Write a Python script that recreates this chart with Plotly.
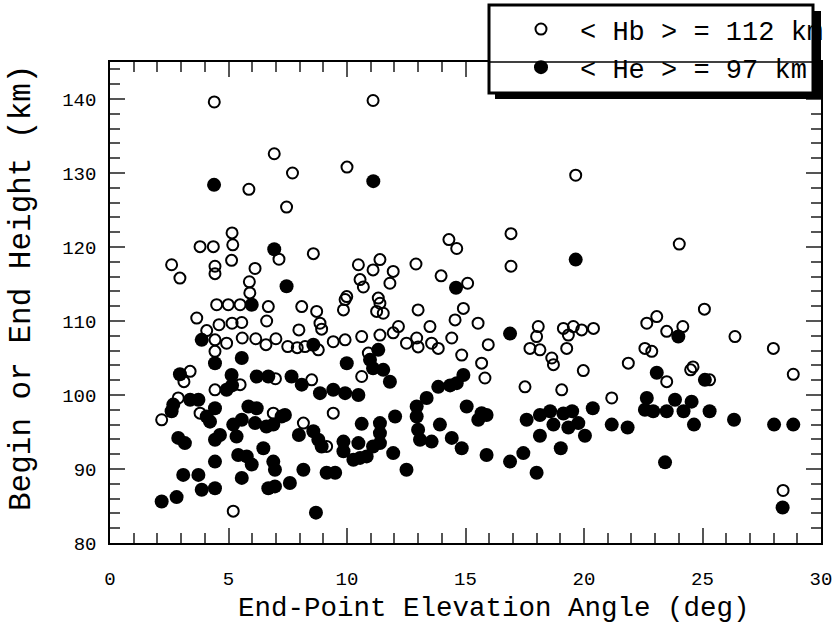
import plotly.graph_objects as go

# ---- data ----
hb_x = [4.4, 11.1, 6.93, 7.7, 10.0, 19.65, 5.86, 7.45, 5.15, 16.92, 14.3, 24.02, 14.63, 3.8, 4.36,
        5.18, 7.13, 8.58, 5.13, 2.6, 2.95, 4.43, 4.43, 6.12, 5.88, 9.99, 5.9, 16.92, 10.48, 11.39,
        11.1, 11.95, 10.55, 10.69, 11.81, 12.91, 13.97, 15.09, 11.32, 25.08, 19.13, 19.55, 19.9, 20.4,
        22.65, 23.07, 23.49, 24.17, 26.37, 19.27, 22.57, 22.86, 27.99, 19.97, 21.87, 24.6, 24.5, 23.49,
        25.3, 28.83, 19.06, 21.17, 28.4, 9.85, 11.39, 11.25, 11.53, 13.0, 14.91, 14.56, 15.53, 9.42,
        9.92, 10.62, 11.39, 11.95, 12.17, 10.9, 12.51, 13.0, 12.94, 13.5, 13.57, 13.85, 14.42, 14.84,
        15.96, 15.68, 15.82, 10.62, 9.42, 17.51, 18.07, 18.0, 17.72, 18.14, 18.64, 18.71, 19.34, 4.5,
        4.99, 5.49, 6.68, 8.09, 8.72, 8.86, 8.93, 3.66, 4.08, 4.6, 5.15, 5.56, 6.61, 7.97, 4.43, 4.92,
        5.58, 6.15, 6.58, 7.0, 7.5, 7.9, 8.23, 8.79, 4.43, 3.38, 3.12, 5.49, 4.43, 6.98, 8.51, 2.88,
        3.8, 2.18, 6.89, 8.16, 9.14, 5.2, 9.92]
hb_y = [139.6, 139.8, 132.6, 130.0, 130.8, 129.7, 127.8, 125.4, 121.9, 121.8, 121.0, 120.4, 119.8, 120.05, 120.05,
        120.3, 118.35, 119.1, 118.2, 117.6, 115.8, 117.4, 116.4, 117.1, 115.3, 113.3, 113.8, 117.4, 117.6, 118.3,
        116.9, 116.7, 115.6, 114.6, 115.1, 117.7, 116.1, 115.1, 113.1, 111.6, 109.0, 109.25, 108.8, 109.0,
        109.7, 110.6, 108.6, 109.25, 107.9, 106.3, 106.3, 105.9, 106.3, 103.3, 104.3, 103.8, 103.4, 101.8,
        102.05, 102.8, 100.7, 99.6, 87.1, 111.5, 112.4, 111.3, 111.05, 111.5, 111.7, 110.15, 109.7, 107.2,
        107.45, 107.9, 108.1, 108.4, 109.25, 105.66, 107.0, 106.5, 107.7, 109.25, 107.0, 106.3, 107.7, 105.4,
        106.8, 104.3, 102.3, 102.5, 97.55, 101.1, 109.25, 107.9, 106.3, 106.1, 105.0, 104.1, 108.1, 112.2,
        112.2, 112.2, 111.95, 111.95, 111.3, 109.7, 108.9, 110.4, 108.7, 109.5, 109.7, 109.8, 110.0, 108.8, 107.45, 107.0,
        107.7, 107.6, 106.8, 107.6, 106.55, 106.4, 106.55, 106.1, 105.9, 103.2, 101.8, 101.4, 100.7, 102.2, 102.05, 99.6,
        97.55, 96.65, 97.55, 96.2, 93.05, 84.3, 112.9]

he_x = [4.39, 11.11, 6.93, 19.65, 7.45, 14.6, 23.98, 16.88, 5.98, 3.87, 8.58, 5.56, 4.43, 9.99, 2.95,
        5.13, 5.15, 6.19, 6.68, 7.66, 8.09, 4.92, 8.86, 9.42, 9.92, 10.48, 10.97, 11.32, 11.1, 11.53,
        11.81, 13.36, 13.85, 14.35, 14.63, 14.91, 15.05, 15.68, 15.89, 15.54, 17.58, 18.14, 18.57, 19.13,
        19.5, 18.71, 19.34, 18.14, 19.02, 17.44, 16.88, 18.0, 15.89, 12.51, 9.5, 10.55, 10.83, 10.27,
        9.85, 9.85, 10.48, 11.39, 11.39, 11.39, 11.1, 11.95, 12.03, 10.62, 12.94, 12.94, 13.0, 13.08,
        13.57, 13.92, 14.42, 14.84, 19.76, 20.04, 20.37, 21.17, 21.84, 22.65, 22.57, 22.92, 23.49, 23.84,
        24.54, 24.2, 25.3, 24.64, 26.33, 28.02, 28.83, 23.42, 28.38, 23.07, 25.1, 2.6, 3.38, 3.73, 4.08,
        4.43, 4.22, 5.84, 6.19, 6.89, 7.24, 5.2, 5.56, 6.12, 6.6, 7.97, 8.58, 8.79, 8.93, 2.88, 3.16,
        4.43, 4.64, 5.34, 6.47, 5.41, 5.77, 5.98, 4.43, 6.89, 6.96, 8.16, 9.14, 3.09, 3.73, 5.56, 3.87,
        4.43, 6.68, 6.96, 7.59, 2.18, 2.81, 8.69, 2.67, 7.38]
he_y = [128.4, 128.9, 119.7, 118.3, 114.7, 114.5, 107.9, 108.3, 112.2, 107.45, 106.8, 105.0, 104.3, 104.3, 102.8,
        102.7, 101.3, 102.5, 102.5, 102.5, 101.4, 100.7, 100.25, 100.7, 100.25, 100.0, 104.75, 106.1, 103.6, 103.4,
        101.8, 99.6, 101.1, 101.3, 101.6, 102.7, 98.45, 97.55, 97.3, 96.65, 96.65, 97.3, 97.8, 97.5,
        97.8, 96.0, 95.6, 94.5, 92.8, 92.15, 91.0, 89.5, 91.9, 89.9, 89.5, 91.5, 91.7, 91.25,
        93.7, 92.4, 93.5, 96.2, 94.85, 93.5, 93.05, 92.15, 97.1, 96.1, 98.45, 97.1, 95.3, 93.95,
        93.7, 96.0, 94.2, 92.8, 96.2, 94.5, 98.2, 96.0, 95.6, 99.6, 98.0, 97.8, 97.8, 99.35,
        99.1, 97.8, 97.8, 96.0, 96.65, 96.0, 96.0, 90.9, 84.8, 103.0, 102.05, 97.8, 99.35, 99.35, 97.1,
        98.2, 96.4, 98.45, 98.2, 96.0, 97.1, 96.0, 96.65, 96.2, 95.75, 94.6, 95.1, 93.95, 93.05, 94.2, 93.5,
        93.95, 94.6, 94.4, 92.8, 91.9, 91.7, 90.6, 91.0, 91.0, 89.9, 89.9, 89.5, 89.2, 89.2, 88.8, 87.2,
        87.4, 87.4, 87.65, 88.1, 85.6, 86.2, 84.1, 98.7, 97.3]

hb_label = "< Hb > = 112 km"
he_label = "< He > = 97 km"
x_title = "End-Point Elevation Angle (deg)"
y_title = "Begin or End Height (km)"
x_range = [0, 30]
y_range = [80, 145]

FONT = "Liberation Mono, Courier New, monospace"
W, H = 836, 627
ML, MR, MT, MB = 110, 15, 62, 84
PW, PH = W - ML - MR, H - MT - MB


def px(xp):
    return (xp - ML) / PW


def py(yp):
    return (H - MB - yp) / PH


fig = go.Figure()
fig.add_trace(go.Scatter(
    x=hb_x, y=hb_y, mode="markers", name=hb_label,
    marker=dict(symbol="circle-open", size=11, color="black", line=dict(width=2, color="black")),
))
fig.add_trace(go.Scatter(
    x=he_x, y=he_y, mode="markers", name=he_label,
    marker=dict(symbol="circle", size=14, color="black", line=dict(width=0)),
))

axis_common = dict(
    showline=True, linecolor="black", linewidth=1.5, mirror="ticks",
    ticks="inside", tickcolor="#555555", tickwidth=1.5,
    showgrid=False, zeroline=False,
    tickfont=dict(family=FONT, size=19, color="black"),
)

fig.update_xaxes(
    range=x_range, dtick=5, tick0=0, ticklen=15, ticklabelstandoff=17,
    minor=dict(dtick=1, ticks="inside", ticklen=10, tickcolor="#555555", tickwidth=1.5, showgrid=False),
    **axis_common,
)
fig.update_yaxes(
    range=y_range, dtick=10, tick0=80, ticklen=15, ticklabelstandoff=8,
    minor=dict(dtick=2, ticks="inside", ticklen=10, tickcolor="#555555", tickwidth=1.5, showgrid=False),
    **axis_common,
)

shapes = [
    # shadow
    dict(type="rect", xref="paper", yref="paper", x0=px(495), x1=px(821), y0=py(99), y1=py(11),
         fillcolor="black", line=dict(width=0), layer="above"),
    # box
    dict(type="rect", xref="paper", yref="paper", x0=px(489), x1=px(813), y0=py(93), y1=py(5),
         fillcolor="white", line=dict(width=3, color="black"), layer="above"),
    # frame line seen through the box
    dict(type="line", xref="paper", yref="paper", x0=px(489), x1=px(813), y0=1, y1=1,
         line=dict(width=1.5, color="black"), layer="above"),
]

annotations = [
    dict(text=x_title, xref="paper", yref="paper", x=px(494), y=py(608),
         xanchor="center", yanchor="middle", showarrow=False,
         font=dict(family=FONT, size=27.5, color="black")),
    dict(text=y_title, xref="paper", yref="paper", x=px(21), y=py(288),
         xanchor="center", yanchor="middle", showarrow=False, textangle=-90,
         font=dict(family=FONT, size=31, color="black")),
]

fig.update_layout(
    width=W, height=H,
    margin=dict(l=ML, r=MR, t=MT, b=MB, pad=0, autoexpand=False),
    paper_bgcolor="white", plot_bgcolor="white",
    shapes=shapes,
    annotations=annotations,
    showlegend=True,
    legend=dict(
        x=px(502), y=py(5), xanchor="left", yanchor="top",
        bgcolor="rgba(0,0,0,0)", borderwidth=0,
        font=dict(family=FONT, size=27, color="black"),
        tracegroupgap=0, itemwidth=68,
    ),
)

fig.write_html("out.html")
